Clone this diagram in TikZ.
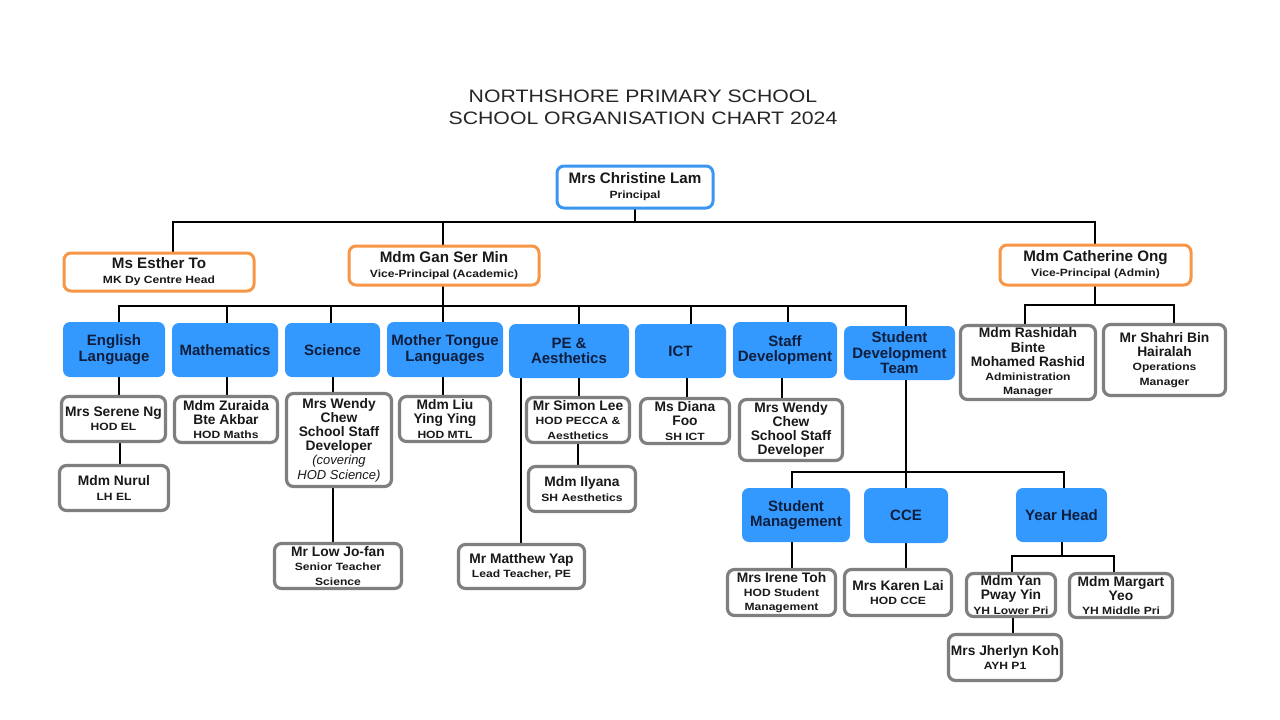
\documentclass[tikz,border=0pt]{standalone}
\usepackage{fontspec}
\setmainfont{Liberation Sans}
\newfontfamily\stretchf[FakeStretch=1.15]{Liberation Sans}
\newfontfamily\titlef[FakeStretch=1.18]{Liberation Sans}
\pgfdeclarelayer{bg}\pgfsetlayers{bg,main}
\definecolor{bfill}{HTML}{3399FF}
\definecolor{bline}{HTML}{3A96F0}
\definecolor{oline}{HTML}{F79646}
\definecolor{gline}{HTML}{7F7F7F}
\definecolor{navy}{HTML}{0F1E3C}
\newcommand\sbf[1]{{\stretchf\bfseries\fontsize{10.5}{12}\selectfont #1}}
\newcommand\itl[1]{{\fontsize{13}{14}\selectfont\mdseries\itshape #1}}
\newcommand\vlink[3]{\coordinate (tx) at (#1,0); \draw[conn] (#2.south -| tx) -- (#3.north -| tx);}
\newcommand\dropto[3]{\coordinate (tx) at (#1,0); \draw[conn] (#2 -| tx) -- (#3.north -| tx);}
\newcommand\riseto[3]{\coordinate (tx) at (#1,0); \draw[conn] (#2.south -| tx) -- (#3 -| tx);}
\tikzset{
 base/.style={rounded corners=7pt, align=center, inner sep=0pt, font=\bfseries\fontsize{13.8}{14.2}\selectfont},
 gbox/.style={base, draw=gline, line width=3.2pt, fill=white, text=black!90},
 pbox/.style={base, draw=bline, line width=3pt, fill=white, text=black!90, font=\bfseries\fontsize{15.2}{15}\selectfont},
 obox/.style={pbox, draw=oline},
 dept/.style={base, fill=bfill, text=navy, font=\bfseries\fontsize{15}{15.5}\selectfont},
 conn/.style={line width=2pt, black, line cap=rect},
}
\begin{document}
\begin{tikzpicture}[x=1pt,y=-1pt]
\useasboundingbox (0,0) rectangle (1280,720);
\node[font=\titlef\fontsize{18}{22}\selectfont, align=center, text=black!85] (title) at (643,107) {NORTHSHORE PRIMARY SCHOOL\\SCHOOL ORGANISATION CHART 2024};
% top level
\node[pbox, minimum width=156pt, minimum height=42pt] (principal) at (635,187) {Mrs Christine Lam\\\sbf{Principal}};
\node[obox, minimum width=190pt, minimum height=38pt] (esther) at (159,272) {Ms Esther To\\\sbf{MK Dy Centre Head}};
\node[obox, minimum width=190pt, minimum height=39pt] (gan) at (444,265.5) {Mdm Gan Ser Min\\\sbf{Vice-Principal (Academic)}};
\node[obox, minimum width=191pt, minimum height=40pt] (catherine) at (1095.5,265) {Mdm Catherine Ong\\\sbf{Vice-Principal (Admin)}};
% departments
\node[dept, minimum width=102pt, minimum height=55pt] (eng) at (114,349.5) {English\\Language};
\node[dept, minimum width=106pt, minimum height=54pt] (math) at (225,350) {Mathematics};
\node[dept, minimum width=95pt, minimum height=54pt] (sci) at (332.5,350) {Science};
\node[dept, minimum width=116pt, minimum height=55pt] (mtl) at (445,349.5) {Mother Tongue\\Languages};
\node[dept, minimum width=120pt, minimum height=54pt] (pe) at (569,351) {PE \&\\Aesthetics};
\node[dept, minimum width=91pt, minimum height=54pt] (ict) at (680.5,351) {ICT};
\node[dept, minimum width=104pt, minimum height=56pt] (staff) at (785,350) {Staff\\Development};
\node[dept, minimum width=111pt, minimum height=54pt] (sdt) at (899.5,353) {Student\\Development\\Team};
% admin
\node[gbox, minimum width=135pt, minimum height=74pt] (rashidah) at (1028,362.5) {Mdm Rashidah\\Binte\\Mohamed Rashid\\\sbf{Administration}\\\sbf{Manager}};
\node[gbox, minimum width=122pt, minimum height=71pt] (shahri) at (1164.5,360) {Mr Shahri Bin\\Hairalah\\\sbf{Operations}\\\sbf{Manager}};
% staff boxes
\node[gbox, minimum width=104pt, minimum height=45pt] (serene) at (113.5,419) {Mrs Serene Ng\\\sbf{HOD EL}};
\node[gbox, minimum width=109pt, minimum height=45pt] (nurul) at (114,488) {Mdm Nurul\\\sbf{LH EL}};
\node[gbox, minimum width=103pt, minimum height=46pt] (zuraida) at (226,419.5) {Mdm Zuraida\\Bte Akbar\\\sbf{HOD Maths}};
\node[gbox, minimum width=105pt, minimum height=93pt] (wendy1) at (339,440) {Mrs Wendy\\Chew\\School Staff\\Developer\\\itl{(covering}\\\itl{HOD Science)}};
\node[gbox, minimum width=127pt, minimum height=45pt] (low) at (338,566) {Mr Low Jo-fan\\\sbf{Senior Teacher}\\\sbf{Science}};
\node[gbox, minimum width=91pt, minimum height=45pt] (liu) at (445,419) {Mdm Liu\\Ying Ying\\\sbf{HOD MTL}};
\node[gbox, minimum width=103pt, minimum height=45pt] (simon) at (578,420) {Mr Simon Lee\\\sbf{HOD PECCA \&}\\\sbf{Aesthetics}};
\node[gbox, minimum width=107pt, minimum height=45pt] (ilyana) at (582,489) {Mdm Ilyana\\\sbf{SH Aesthetics}};
\node[gbox, minimum width=126pt, minimum height=44pt] (matthew) at (521.5,566.5) {Mr Matthew Yap\\\sbf{Lead Teacher, PE}};
\node[gbox, minimum width=89pt, minimum height=45pt] (diana) at (685,421) {Ms Diana\\Foo\\\sbf{SH ICT}};
\node[gbox, minimum width=103pt, minimum height=61pt] (wendy2) at (791,430) {Mrs Wendy\\Chew\\School Staff\\Developer};
% student development
\node[dept, minimum width=108pt, minimum height=54pt] (sm) at (796,515) {Student\\Management};
\node[dept, minimum width=84pt, minimum height=55pt] (cce) at (906,515.5) {CCE};
\node[dept, minimum width=91pt, minimum height=54pt] (yh) at (1061.5,515) {Year Head};
\node[gbox, minimum width=108pt, minimum height=46pt] (irene) at (781.5,592.5) {Mrs Irene Toh\\\sbf{HOD Student}\\\sbf{Management}};
\node[gbox, minimum width=107pt, minimum height=46pt] (karen) at (898,592.5) {Mrs Karen Lai\\\sbf{HOD CCE}};
\node[gbox, minimum width=89pt, minimum height=43pt] (yan) at (1011,595) {Mdm Yan\\Pway Yin\\\sbf{YH Lower Pri}};
\node[gbox, minimum width=103pt, minimum height=44pt] (margart) at (1121,595.5) {Mdm Margart\\Yeo\\\sbf{YH Middle Pri}};
\node[gbox, minimum width=113pt, minimum height=46pt] (jherlyn) at (1005,657.5) {Mrs Jherlyn Koh\\\sbf{AYH P1}};
% connectors
\begin{pgfonlayer}{bg}
\fill[white] (0,0) rectangle (1280,720);
\coordinate (b1l) at (173,222); \coordinate (b1r) at (1095,222);
\coordinate (b2l) at (119,306); \coordinate (b2r) at (906,306);
\coordinate (b3l) at (1025,305); \coordinate (b3r) at (1174,305);
\coordinate (b4l) at (792,472); \coordinate (b4r) at (1064,472);
\coordinate (b5l) at (1012,556); \coordinate (b5r) at (1114,556);
\riseto{635}{principal}{b1l}
\draw[conn] (b1l) -- (b1r);
\dropto{173}{b1l}{esther}
\dropto{443}{b1l}{gan}
\dropto{1095}{b1l}{catherine}
\riseto{443}{gan}{b2l}
\draw[conn] (b2l) -- (b2r);
\dropto{119}{b2l}{eng}
\dropto{227}{b2l}{math}
\dropto{331}{b2l}{sci}
\dropto{443}{b2l}{mtl}
\dropto{579}{b2l}{pe}
\dropto{691}{b2l}{ict}
\dropto{788}{b2l}{staff}
\dropto{906}{b2l}{sdt}
\riseto{1095}{catherine}{b3l}
\draw[conn] (b3l) -- (b3r);
\dropto{1025}{b3l}{rashidah}
\dropto{1174}{b3l}{shahri}
\vlink{119}{eng}{serene}
\vlink{120}{serene}{nurul}
\vlink{227}{math}{zuraida}
\vlink{333}{sci}{wendy1}
\vlink{333}{wendy1}{low}
\vlink{443}{mtl}{liu}
\vlink{521}{pe}{matthew}
\vlink{579}{pe}{simon}
\vlink{578}{simon}{ilyana}
\vlink{687}{ict}{diana}
\vlink{782}{staff}{wendy2}
\riseto{906}{sdt}{b4l}
\draw[conn] (b4l) -- (b4r);
\dropto{792}{b4l}{sm}
\dropto{906}{b4l}{cce}
\dropto{1064}{b4l}{yh}
\vlink{792}{sm}{irene}
\vlink{906}{cce}{karen}
\riseto{1062}{yh}{b5l}
\draw[conn] (b5l) -- (b5r);
\dropto{1012}{b5l}{yan}
\dropto{1114}{b5l}{margart}
\vlink{1013}{yan}{jherlyn}
\end{pgfonlayer}
\end{tikzpicture}
\end{document}
